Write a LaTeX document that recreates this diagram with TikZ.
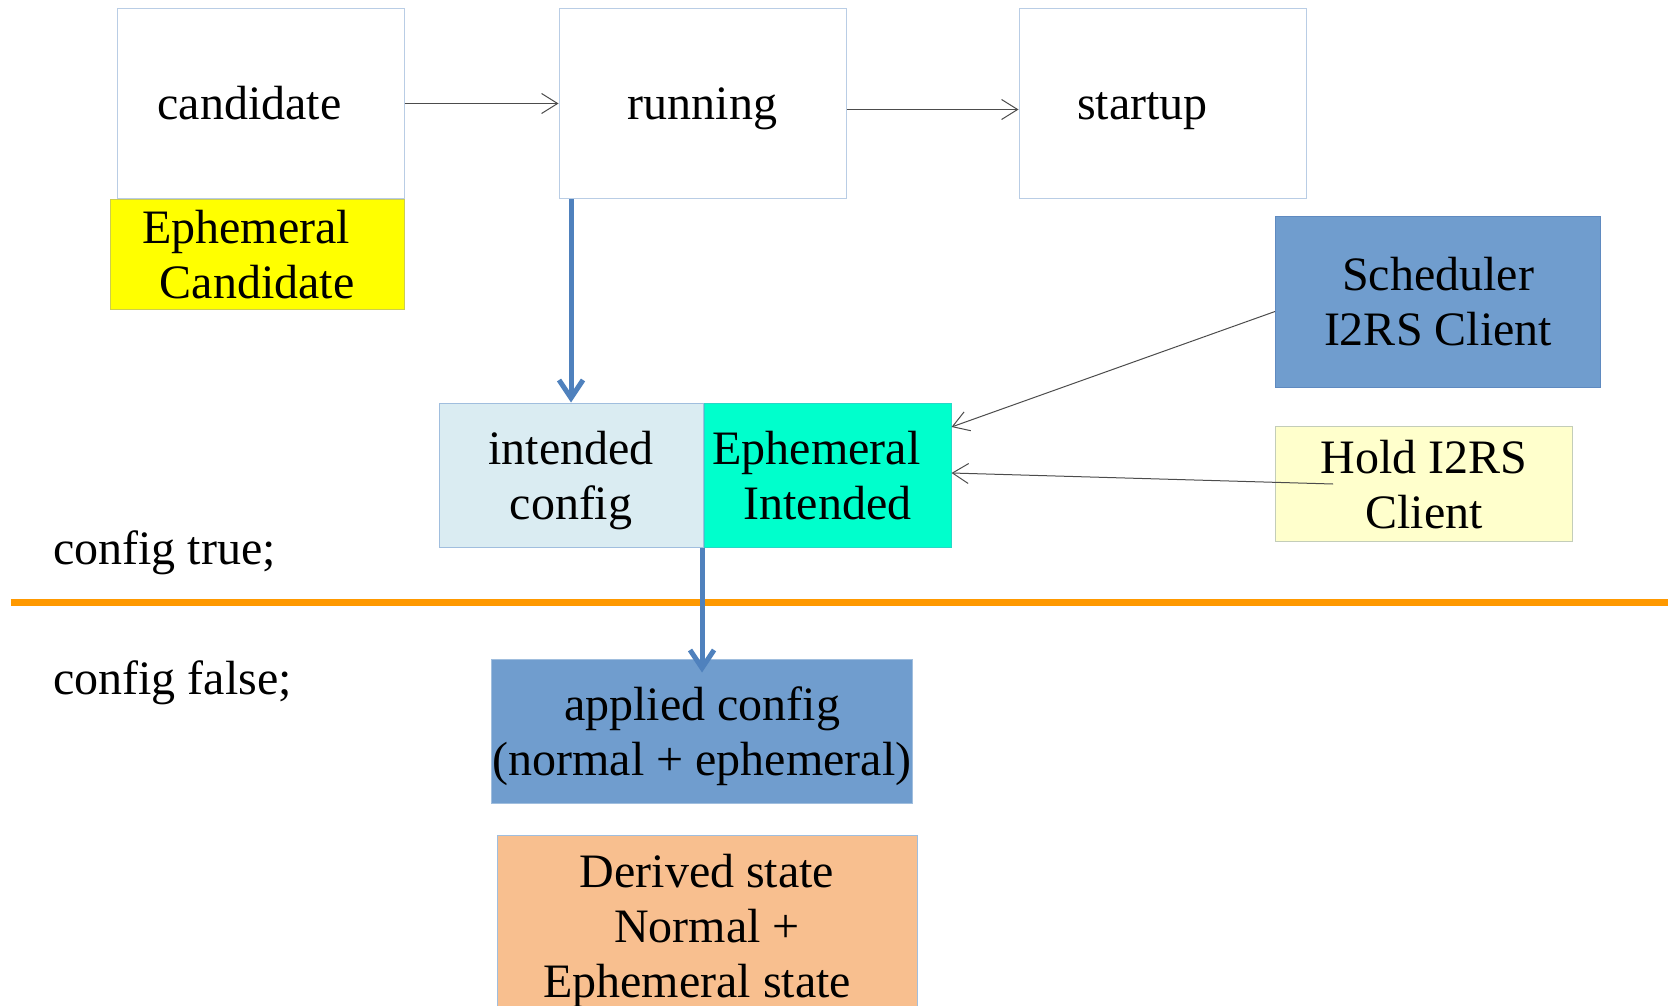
\documentclass[tikz,border=0pt]{standalone}
\usepackage{fontspec}
\setmainfont{Liberation Serif}
\usetikzlibrary{positioning,arrows.meta}

\definecolor{boxline}{RGB}{185,205,229}
\definecolor{ephyellow}{RGB}{255,255,0}
\definecolor{ephyline}{RGB}{205,205,80}
\definecolor{clientblue}{RGB}{112,157,206}
\definecolor{clientline}{RGB}{95,138,192}
\definecolor{holdfill}{RGB}{255,255,204}
\definecolor{holdline}{RGB}{195,205,185}
\definecolor{intfill}{RGB}{218,236,242}
\definecolor{intline}{RGB}{160,190,222}
\definecolor{ephcyan}{RGB}{0,255,204}
\definecolor{ephcline}{RGB}{40,215,200}
\definecolor{derivfill}{RGB}{248,191,143}
\definecolor{splitorange}{RGB}{255,153,0}
\definecolor{flowblue}{RGB}{79,129,189}

\begin{document}
\begin{tikzpicture}[
  x=1pt,y=-1pt,
  font=\fontsize{48}{55}\selectfont,
  store/.style={draw=boxline,line width=1pt,inner sep=0pt,align=center,
    text height=33pt,text depth=0pt,minimum width=287pt,minimum height=190pt},
  cbox/.style 2 args={fill=#1,draw=#2,line width=1pt,inner sep=0pt,align=center,
    text depth=0pt},
  flow/.style={-{Straight Barb[length=16pt,width=20pt]},line width=1pt,draw=black!70},
  feed/.style={-{Straight Barb[length=18pt,width=24pt]},line width=5pt,draw=flowblue}
]
  \useasboundingbox (0,0) rectangle (1668,1006);

  % datastores on top
  \node[store] (cand) at (260.5,103.5) {candidate\hspace*{22pt}};
  \node[store,right=154pt of cand] (run) {running};
  \node[store,right=172pt of run] (start) {startup\hspace*{40pt}};
  \node[cbox={ephyellow}{ephyline},minimum width=294pt,minimum height=110pt,
    anchor=north east] (ecand) at (cand.south east) {Ephemeral\hspace*{22pt}\\ Candidate};

  % clients
  \node[cbox={clientblue}{clientline},minimum width=325pt,minimum height=171pt]
    (sched) at (1438,301.5) {Scheduler\\I2RS Client};
  \node[cbox={holdfill}{holdline},minimum width=297pt,minimum height=115pt]
    (hold) at (1424,484) {Hold I2RS\\Client};

  % intended
  \node[cbox={intfill}{intline},minimum width=264pt,minimum height=144pt]
    (intd) at (571,475) {intended\\config};
  \node[cbox={ephcyan}{ephcline},minimum width=247pt,minimum height=144pt,
    right=0pt of intd] (eint) {Ephemeral\hspace*{22pt}\\ Intended};

  % config true / false split
  \coordinate (splitl) at (10.6,602);
  \coordinate (splitr) at (1668,602);
  \draw[line width=7pt,splitorange] (splitl) -- (splitr);
  \node[anchor=west,inner sep=0pt] (ctrue) at (53,553) {config true;};
  \node[anchor=west,inner sep=0pt] (cfalse) at (53,683) {config false;};

  \node[cbox={clientblue}{intline},minimum width=421pt,minimum height=144pt]
    (appl) at (702,731) {applied config\\(normal + ephemeral)};
  \node[cbox={derivfill}{intline},minimum width=420pt,minimum height=181pt]
    (deriv) at (707,925.5) {Derived state\\Normal +\hspace*{26pt}\\Ephemeral state\hspace*{20pt}};

  \draw[flow] (cand) -- (run);
  \draw[flow] ([yshift=-6pt]run.east) -- ([yshift=-6pt]start.west);
  \draw[flow] ([yshift=-10pt]sched.west) -- ([yshift=48pt]eint.east);
  \draw[flow] ([xshift=-91pt]hold.center) -- ([yshift=2pt]eint.east);
  \draw[feed] (run.south -| intd.north) -- (intd.north);
  \draw[feed] (intd.south -| appl.north) -- ([yshift=-14pt]appl.north);
\end{tikzpicture}
\end{document}
